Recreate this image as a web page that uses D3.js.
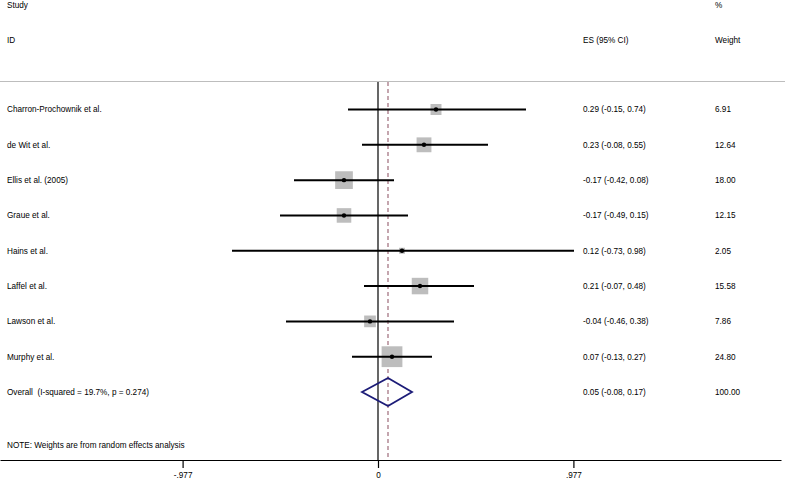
<!DOCTYPE html>
<html>
<head>
<meta charset="utf-8">
<script src="https://cdn.jsdelivr.net/npm/d3@7"></script>
<style>
  body { margin: 0; background: #fff; }
  svg { display: block; font-family: "Liberation Sans", Arial, sans-serif; }
  svg text { white-space: pre; }
</style>
</head>
<body>
<div id="chart"></div>
<script>
const studies = [
    "Charron-Prochownik et al.",
    "de Wit et al.",
    "Ellis et al. (2005)",
    "Graue et al.",
    "Hains et al.",
    "Laffel et al.",
    "Lawson et al.",
    "Murphy et al."
]
const effects = [0.29, 0.23, -0.17, -0.17, 0.12, 0.21, -0.04, 0.07]
const lower = [-0.15, -0.08, -0.42, -0.49, -0.73, -0.07, -0.46, -0.13]
const upper = [0.74, 0.55, 0.08, 0.15, 0.98, 0.48, 0.38, 0.27]
const weights = [6.91, 12.64, 18.00, 12.15, 2.05, 15.58, 7.86, 24.80]

const overallLabel = "Overall  (I-squared = 19.7%, p = 0.274)"
const overall = [0.05, -0.08, 0.17, 100.00]   // es, lo, hi, weight
const tickValues = [-0.977, 0, 0.977]
const note = "NOTE: Weights are from random effects analysis"

const width = 787,
height = 481;

const svg = d3.select("#chart")
    .append("svg")
    .attr("width", width)
    .attr("height", height)

const x = d3.scaleLinear()
    .domain([-1.89, 2.015])
    .range([0, 781])

// row positions: studies, then overall
const y = d3.scalePoint()
    .domain(d3.range(studies.length + 1))
    .range([109.5, 392])

const rowStep = y.step()
const noteY = y(studies.length) + rowStep * 1.5
const axisY = 460

const boxSize = d3.scaleSqrt()
    .domain([0, d3.max(weights)])
    .range([0, 20.8])

const fmt = d => d.toFixed(2)
const tickFmt = d => d === 0 ? "0" : d.toFixed(3).replace("0.", ".")

const fontSize = "8.2px"
const colES = 583, colW = 715, colLabel = 7

const text = (xp, yp, s) => svg.append("text")
    .attr("x", xp)
    .attr("y", yp)
    .attr("dy", "0.35em")
    .style("font-size", fontSize)
    .attr("fill", "#000")
    .text(s)

// header
text(colLabel, 5.5, "Study")
text(colLabel, 40, "ID")
text(colES, 40, "ES (95% CI)")
text(colW, 5.5, "%")
text(colW, 40, "Weight")

svg.append("line")
    .attr("x1", 0).attr("x2", 785)
    .attr("y1", 81.5).attr("y2", 81.5)
    .attr("stroke", "#bdbdbd")
    .attr("stroke-width", 1.2)

// null line
svg.append("line")
    .attr("x1", x(0)).attr("x2", x(0))
    .attr("y1", 82).attr("y2", axisY)
    .attr("stroke", "#000")
    .attr("stroke-width", 1.2)

// pooled estimate line
svg.append("line")
    .attr("x1", x(overall[0])).attr("x2", x(overall[0]))
    .attr("y1", 82).attr("y2", axisY)
    .attr("stroke", "#9e6b7a")
    .attr("stroke-width", 1.2)
    .attr("stroke-dasharray", "4,3")

const rows = studies.map((s, i) => ({name: s, es: effects[i], lo: lower[i], hi: upper[i], w: weights[i], i: i}))

svg.selectAll("rect.box")
    .data(rows)
    .join("rect")
    .attr("class", "box")
    .attr("x", d => x(d.es) - boxSize(d.w) / 2)
    .attr("y", d => y(d.i) - boxSize(d.w) / 2)
    .attr("width", d => boxSize(d.w))
    .attr("height", d => boxSize(d.w))
    .attr("fill", "#bdbdbd")

svg.selectAll("line.ci")
    .data(rows)
    .join("line")
    .attr("class", "ci")
    .attr("x1", d => x(d.lo))
    .attr("x2", d => x(d.hi))
    .attr("y1", d => y(d.i))
    .attr("y2", d => y(d.i))
    .attr("stroke", "#000")
    .attr("stroke-width", 2)

svg.selectAll("circle.pt")
    .data(rows)
    .join("circle")
    .attr("class", "pt")
    .attr("cx", d => x(d.es))
    .attr("cy", d => y(d.i))
    .attr("r", 2.2)
    .attr("fill", "#000")

rows.forEach(d => {
    text(colLabel, y(d.i), d.name)
    text(colES, y(d.i), `${fmt(d.es)} (${fmt(d.lo)}, ${fmt(d.hi)})`)
    text(colW, y(d.i), fmt(d.w))
})

// overall diamond
const oy = y(studies.length)
svg.append("polygon")
    .attr("points", [
        [x(overall[1]), oy],
        [x(overall[0]), oy - 14],
        [x(overall[2]), oy],
        [x(overall[0]), oy + 14]
    ].join(" "))
    .attr("fill", "none")
    .attr("stroke", "#1c1c78")
    .attr("stroke-width", 1.8)

text(colLabel, oy, overallLabel)
text(colES, oy, `${fmt(overall[0])} (${fmt(overall[1])}, ${fmt(overall[2])})`)
text(colW, oy, fmt(overall[3]))

text(colLabel, noteY, note)

// axis
const axis = svg.append("g")
    .attr("transform", `translate(0,${axisY})`)
    .call(d3.axisBottom(x)
        .tickValues(tickValues)
        .tickFormat(tickFmt)
        .tickSize(8)
        .tickSizeOuter(0)
        .tickPadding(4))

axis.select(".domain").attr("stroke", "#000").attr("stroke-width", 1.2)
axis.selectAll(".tick line").attr("stroke", "#000").attr("stroke-width", 1.2)
axis.selectAll(".tick text")
    .style("font-size", fontSize)
    .style("font-family", "Liberation Sans, Arial, sans-serif")
    .attr("fill", "#000")
</script>
</body>
</html>
